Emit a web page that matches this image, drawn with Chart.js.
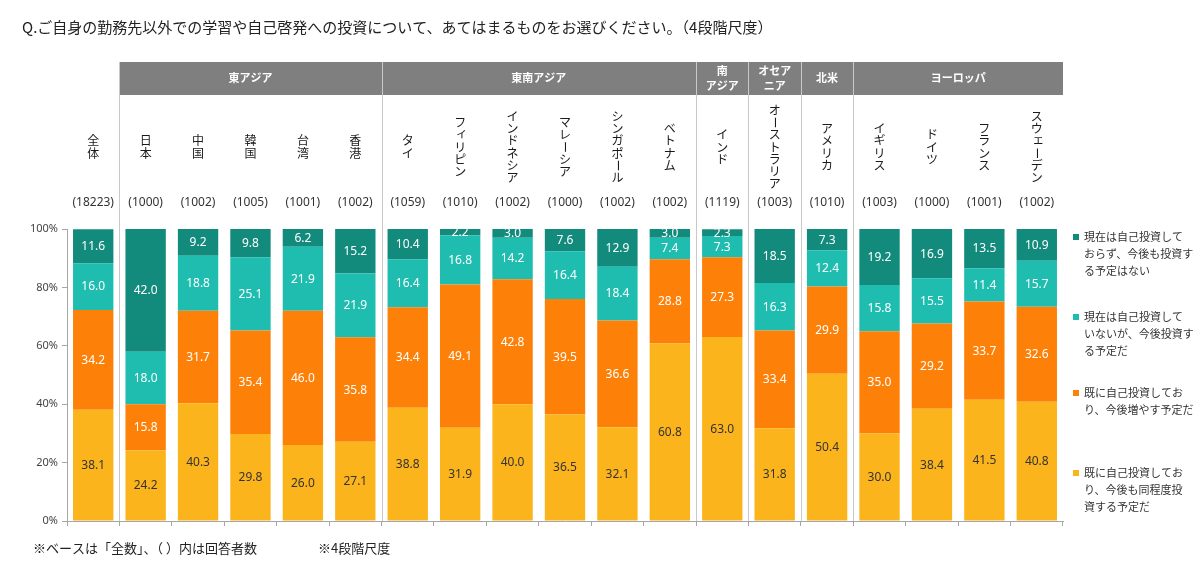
<!DOCTYPE html>
<html><head><meta charset="utf-8">
<script src="https://cdn.jsdelivr.net/npm/chart.js@4.4.1/dist/chart.umd.min.js"></script>
<style>html,body{margin:0;padding:0;background:#fff}#wrap{width:1200px;height:571px}</style>
</head><body><div id="wrap"><canvas id="c" width="1200" height="571"></canvas></div>
<script>
const categories = ['全体','日本','中国','韓国','台湾','香港','タイ','フィリピン','インドネシア','マレーシア','シンガポール','ベトナム','インド','オーストラリア','アメリカ','イギリス','ドイツ','フランス','スウェーデン'];
const counts = ['(18223)','(1000)','(1002)','(1005)','(1001)','(1002)','(1059)','(1010)','(1002)','(1000)','(1002)','(1002)','(1119)','(1003)','(1010)','(1003)','(1000)','(1001)','(1002)'];
// 既に自己投資しており、今後も同程度投資する予定だ
const sameLevel = [38.1,24.2,40.3,29.8,26.0,27.1,38.8,31.9,40.0,36.5,32.1,60.8,63.0,31.8,50.4,30.0,38.4,41.5,40.8];
// 既に自己投資しており、今後増やす予定だ
const increase = [34.2,15.8,31.7,35.4,46.0,35.8,34.4,49.1,42.8,39.5,36.6,28.8,27.3,33.4,29.9,35.0,29.2,33.7,32.6];
// 現在は自己投資していないが、今後投資する予定だ
const planToInvest = [16.0,18.0,18.8,25.1,21.9,21.9,16.4,16.8,14.2,16.4,18.4,7.4,7.3,16.3,12.4,15.8,15.5,11.4,15.7];
// 現在は自己投資しておらず、今後も投資する予定はない
const noPlan = [11.6,42.0,9.2,9.8,6.2,15.2,10.4,2.2,3.0,7.6,12.9,3.0,2.3,18.5,7.3,19.2,16.9,13.5,10.9];
const seriesLegend = [
  ['現在は自己投資して','おらず、今後も投資す','る予定はない'],
  ['現在は自己投資して','いないが、今後投資す','る予定だ'],
  ['既に自己投資してお','り、今後増やす予定だ'],
  ['既に自己投資してお','り、今後も同程度投','資する予定だ']
];
const groups = [
  {label:['東アジア'], from:1, to:5},
  {label:['東南アジア'], from:6, to:11},
  {label:['南','アジア'], from:12, to:12},
  {label:['オセア','ニア'], from:13, to:13},
  {label:['北米'], from:14, to:14},
  {label:['ヨーロッパ'], from:15, to:18}
];
const yTicks = [0,20,40,60,80,100];
const titleText = 'Q.ご自身の勤務先以外での学習や自己啓発への投資について、あてはまるものをお選びください。（4段階尺度）';
const noteText1 = '※ベースは「全数」、（ ）内は回答者数';
const noteText2 = '※4段階尺度';

const C_DARK = '#138b7c', C_LIGHT = '#1fbdb0', C_ORANGE = '#fd8009', C_YELLOW = '#fcb41d';
const JP = '"Noto Sans CJK JP", "Noto Sans", sans-serif';

const decor = {
  id: 'decor',
  afterDatasetsDraw(chart) {
    const ctx = chart.ctx;
    ctx.save();
    ctx.textAlign = 'center';
    ctx.textBaseline = 'middle';
    ctx.font = '12px "Noto Sans", sans-serif';
    chart.data.datasets.forEach((ds, di) => {
      const meta = chart.getDatasetMeta(di);
      meta.data.forEach((bar, i) => {
        const v = ds.data[i];
        const yc = (bar.y + bar.base) / 2;
        ctx.fillStyle = di === 0 ? '#333333' : '#ffffff';
        ctx.fillText(v.toFixed(1), bar.x, yc + 0.5);
      });
    });
    ctx.restore();
  },
  afterDraw(chart) {
    const ctx = chart.ctx;
    const xs = chart.scales.x;
    const area = chart.chartArea;
    const px = i => xs.getPixelForValue(i);
    const boundary = i => (px(i - 1) + px(i)) / 2;
    ctx.save();
    // title
    ctx.fillStyle = '#222';
    ctx.font = '15px ' + JP;
    ctx.textAlign = 'left';
    ctx.textBaseline = 'middle';
    ctx.fillText(titleText, 22, 27);
    // header band
    const hTop = 62, hBot = 95;
    const hLeft = boundary(1), hRight = area.right;
    ctx.fillStyle = '#7f7f7f';
    ctx.fillRect(hLeft, hTop, hRight - hLeft, hBot - hTop);
    // separators
    const sepIdx = groups.map(g => g.from);
    sepIdx.forEach(i => {
      const x = Math.round(boundary(i)) + 0.5;
      ctx.strokeStyle = '#c9c9c9';
      ctx.lineWidth = 1;
      ctx.beginPath();
      ctx.moveTo(x, hTop);
      ctx.lineTo(x, area.bottom);
      ctx.stroke();
    });
    // header texts
    ctx.fillStyle = '#ffffff';
    ctx.font = 'bold 11px ' + JP;
    ctx.textAlign = 'center';
    groups.forEach(g => {
      const l = boundary(g.from);
      const r = g.to === categories.length - 1 ? area.right : boundary(g.to + 1);
      const cx = (l + r) / 2;
      if (g.label.length === 1) {
        ctx.fillText(g.label[0], cx, 78);
      } else {
        ctx.fillText(g.label[0], cx, 71);
        ctx.fillText(g.label[1], cx, 86);
      }
    });
    // vertical category labels
    ctx.fillStyle = '#1a1a1a';
    ctx.font = '12px ' + JP;
    const adv = 12.3;
    const small = 'ィッェャュョァゥォ';
    categories.forEach((lab, i) => {
      const chars = Array.from(lab);
      const x = px(i);
      const total = chars.length * adv;
      let y = 147 - total / 2 + adv / 2;
      chars.forEach(ch => {
        if (ch === 'ー') {
          ctx.save();
          ctx.translate(x, y);
          ctx.rotate(Math.PI / 2);
          ctx.fillText(ch, 0, 0);
          ctx.restore();
        } else if (small.includes(ch)) {
          ctx.fillText(ch, x + 1.5, y - 1.5);
        } else {
          ctx.fillText(ch, x, y);
        }
        y += adv;
      });
    });
    // counts
    ctx.fillStyle = '#333';
    ctx.font = '12px "Noto Sans", sans-serif';
    counts.forEach((c, i) => ctx.fillText(c, px(i), 203));
    // legend
    const colors = [C_DARK, C_LIGHT, C_ORANGE, C_YELLOW];
    const legY = [237, 317, 393, 473];
    ctx.font = '11px ' + JP;
    ctx.textAlign = 'left';
    seriesLegend.forEach((lines, k) => {
      ctx.fillStyle = colors[k];
      ctx.fillRect(1073, legY[k] - 3, 6, 6);
      ctx.fillStyle = '#333';
      lines.forEach((t, j) => ctx.fillText(t, 1084, legY[k] + j * 16.8));
    });
    // footnote
    ctx.fillStyle = '#222';
    ctx.font = '13px ' + JP;
    ctx.fillText(noteText1, 33, 548);
    ctx.fillText(noteText2, 318, 548);
    ctx.restore();
  }
};

new Chart(document.getElementById('c'), {
  type: 'bar',
  data: {
    labels: categories,
    datasets: [
      {label: seriesLegend[3].join(''), data: sameLevel, backgroundColor: C_YELLOW},
      {label: seriesLegend[2].join(''), data: increase, backgroundColor: C_ORANGE},
      {label: seriesLegend[1].join(''), data: planToInvest, backgroundColor: C_LIGHT},
      {label: seriesLegend[0].join(''), data: noPlan, backgroundColor: C_DARK}
    ]
  },
  options: {
    responsive: false,
    animation: false,
    devicePixelRatio: 1,
    datasets: {bar: {categoryPercentage: 1, barPercentage: 0.77, borderWidth: 0}},
    layout: {padding: {left: 17, right: 137, top: 229, bottom: 0}},
    plugins: {legend: {display: false}, tooltip: {enabled: false}},
    scales: {
      x: {
        stacked: true,
        offset: true,
        grid: {display: true, drawOnChartArea: false, drawTicks: true, tickLength: 5, offset: true, color: '#a6a6a6'},
        border: {display: true, color: '#a6a6a6'},
        ticks: {display: false},
        afterFit: s => { s.height = 50; }
      },
      y: {
        stacked: true,
        min: 0, max: 100,
        afterBuildTicks: s => { s.ticks = yTicks.map(v => ({value: v})); },
        grid: {display: true, drawOnChartArea: false, drawTicks: true, tickLength: 5, color: '#a6a6a6'},
        border: {display: true, color: '#a6a6a6'},
        ticks: {padding: 4, color: '#444', font: {size: 11, family: '"Noto Sans", sans-serif'}, callback: v => v + '%'},
        afterFit: s => { s.width = 50; }
      }
    }
  },
  plugins: [decor]
});
</script>
</body></html>
